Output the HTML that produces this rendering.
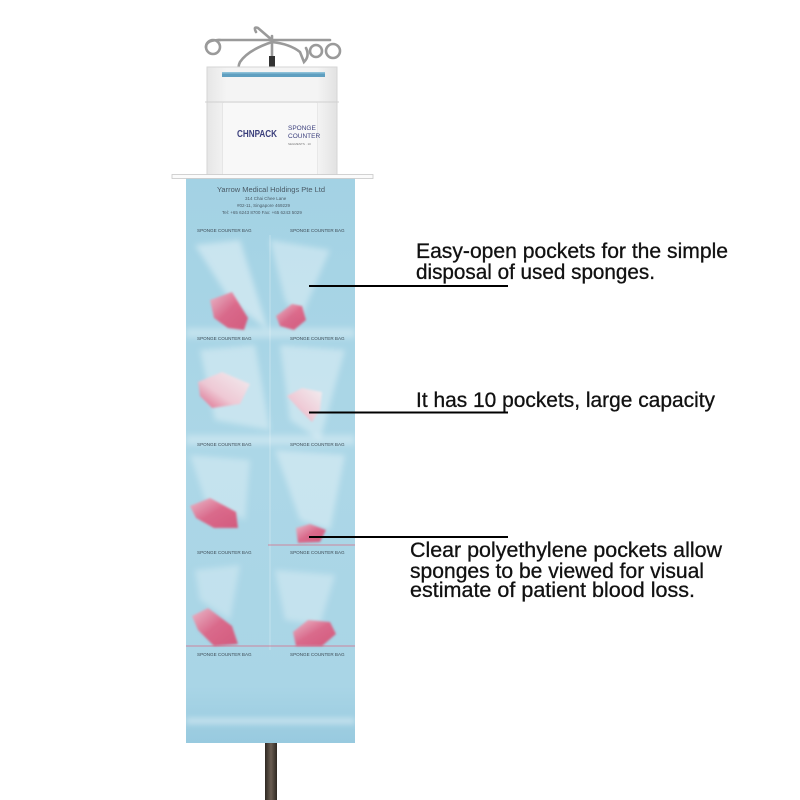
<!DOCTYPE html>
<html><head><meta charset="utf-8"><style>
html,body{margin:0;padding:0;background:#fff;}
svg{display:block;}
</style></head><body>
<svg width="800" height="800" viewBox="0 0 800 800" xmlns="http://www.w3.org/2000/svg">
<defs>
<linearGradient id="pole" x1="0" x2="1" y1="0" y2="0">
<stop offset="0" stop-color="#2e2822"/><stop offset="0.5" stop-color="#6a5d52"/><stop offset="1" stop-color="#2e2822"/>
</linearGradient>
<linearGradient id="bag" x1="0" x2="0" y1="0" y2="1">
<stop offset="0" stop-color="#a3d2e4"/><stop offset="0.5" stop-color="#acd7e7"/><stop offset="0.9" stop-color="#a9d5e6"/><stop offset="1" stop-color="#98cadf"/>
</linearGradient>
<linearGradient id="sp" x1="0" x2="1" y1="0" y2="1">
<stop offset="0" stop-color="#f4b6c6"/><stop offset="0.5" stop-color="#e2567a"/><stop offset="1" stop-color="#d9466c"/>
</linearGradient>
<linearGradient id="sp2" x1="1" x2="0" y1="0" y2="1">
<stop offset="0" stop-color="#f7f0f2"/><stop offset="0.6" stop-color="#f3c6d2"/><stop offset="1" stop-color="#e25a7c"/>
</linearGradient>
<linearGradient id="box" x1="0" x2="1" y1="0" y2="0">
<stop offset="0" stop-color="#e6e6e6"/><stop offset="0.15" stop-color="#f4f4f4"/><stop offset="0.85" stop-color="#f4f4f4"/><stop offset="1" stop-color="#e2e2e2"/>
</linearGradient>
<filter id="soft" x="-10%" y="-10%" width="120%" height="120%"><feGaussianBlur stdDeviation="3"/></filter>
<filter id="soft1" x="-10%" y="-10%" width="120%" height="120%"><feGaussianBlur stdDeviation="1"/></filter>
<clipPath id="bagclip"><rect x="186" y="178" width="169" height="565"/></clipPath>
</defs>
<rect width="800" height="800" fill="#fff"/>

<!-- pole bottom -->
<rect x="265" y="740" width="12" height="60" fill="url(#pole)"/>

<!-- IV hooks -->
<g fill="none" stroke="#9a9a9a" stroke-width="2.6" stroke-linecap="round">
<line x1="272" y1="36" x2="272" y2="70"/>
<path d="M218 40 L330 40"/>
<circle cx="213" cy="47" r="7"/>
<path d="M220 40 Q206 40 206 47"/>
<path d="M272 42 Q248 50 240 62 Q236 70 244 72"/>
<path d="M272 40 L258 28 Q253 26 256 32"/>
<path d="M272 42 Q290 44 300 52 L304 62 Q310 56 306 48"/>
<circle cx="316" cy="51" r="6"/>
<circle cx="333" cy="51" r="7"/>
</g>
<rect x="269" y="56" width="6" height="14" fill="#333"/>

<!-- box -->
<rect x="207" y="67" width="130" height="108" fill="url(#box)" stroke="#d6d6d6" stroke-width="1"/>
<rect x="222" y="72" width="103" height="5" fill="#5f9fc0"/>
<rect x="222" y="72" width="103" height="1.5" fill="#8cc0d8"/>
<line x1="205" y1="102" x2="339" y2="102" stroke="#d0d0d0" stroke-width="1"/>
<line x1="223" y1="102" x2="223" y2="175" stroke="#dcdcdc" stroke-width="1"/>
<line x1="317" y1="102" x2="317" y2="175" stroke="#dcdcdc" stroke-width="1"/>
<rect x="223" y="103" width="94" height="72" fill="#f8f8f8"/>
<text x="237" y="137" font-family="Liberation Sans, sans-serif" font-size="10" font-weight="bold" fill="#3b3f7c" textLength="40" lengthAdjust="spacingAndGlyphs">CHNPACK</text>
<text x="288" y="130" font-family="Liberation Sans, sans-serif" font-size="6.5" fill="#3b3f7c">SPONGE</text>
<text x="288" y="138" font-family="Liberation Sans, sans-serif" font-size="6.5" fill="#3b3f7c">COUNTER</text>
<text x="288" y="145" font-family="Liberation Sans, sans-serif" font-size="3" fill="#777">SEGMENTS · 10</text>

<!-- bag -->
<rect x="186" y="178" width="169" height="565" fill="url(#bag)"/>
<!-- folds / highlights -->
<g fill="#ffffff" filter="url(#soft)" clip-path="url(#bagclip)">
<polygon points="195,245 240,240 268,330 230,300" opacity="0.4"/>
<polygon points="270,240 330,250 300,320 285,300" opacity="0.35"/>
<polygon points="200,350 255,345 270,430 215,420" opacity="0.35"/>
<polygon points="280,345 345,350 320,440 290,420" opacity="0.35"/>
<polygon points="190,455 250,460 245,520 205,500" opacity="0.3"/>
<polygon points="275,450 345,455 330,530 300,520" opacity="0.35"/>
<polygon points="195,570 240,565 230,620 200,600" opacity="0.28"/>
<polygon points="275,570 335,575 320,625 285,620" opacity="0.3"/>
<rect x="186" y="718" width="169" height="6" opacity="0.4"/>
<rect x="186" y="328" width="169" height="10" opacity="0.3"/>
<rect x="186" y="435" width="169" height="10" opacity="0.3"/>
</g>
<line x1="270" y1="235" x2="270" y2="650" stroke="#ffffff" stroke-width="1" opacity="0.3"/>
<line x1="268" y1="545" x2="355" y2="545" stroke="#d86a86" stroke-width="0.8"/>
<line x1="186" y1="646" x2="355" y2="646" stroke="#d86a86" stroke-width="0.8"/>

<!-- bag header text -->
<g font-family="Liberation Sans, sans-serif" fill="#4a5a66">
<text x="217" y="192" font-size="7" textLength="108" lengthAdjust="spacingAndGlyphs">Yarrow Medical Holdings Pte Ltd</text>
<text x="245" y="200" font-size="4.5">314 Chai Chee Lane</text>
<text x="237" y="207" font-size="4.5">#02-11, Singapore 469229</text>
<text x="222" y="214" font-size="4.5">Tel: +65 6243 8700 Fax: +65 6243 5029</text>
</g>
<!-- pocket labels -->
<g font-family="Liberation Sans, sans-serif" font-size="4.6" fill="#3e4c56">
<text x="197" y="232">SPONGE COUNTER BAG</text><text x="290" y="232">SPONGE COUNTER BAG</text>
<text x="197" y="340">SPONGE COUNTER BAG</text><text x="290" y="340">SPONGE COUNTER BAG</text>
<text x="197" y="446">SPONGE COUNTER BAG</text><text x="290" y="446">SPONGE COUNTER BAG</text>
<text x="197" y="554">SPONGE COUNTER BAG</text><text x="290" y="554">SPONGE COUNTER BAG</text>
<text x="197" y="656">SPONGE COUNTER BAG</text><text x="290" y="656">SPONGE COUNTER BAG</text>
</g>

<!-- sponges -->
<g filter="url(#soft1)">
<polygon points="210,300 232,292 248,318 244,330 228,328 214,318" fill="url(#sp)" opacity="0.85"/>
<polygon points="276,316 292,304 302,306 306,320 294,330 280,326" fill="url(#sp)" opacity="0.85"/>
<polygon points="198,382 222,372 250,384 240,404 212,408 200,396" fill="url(#sp2)" opacity="0.9"/>
<polygon points="287,396 302,388 322,392 320,410 312,422 300,410" fill="url(#sp2)" opacity="0.9"/>
<polygon points="190,506 210,498 236,512 238,528 214,528 196,518" fill="url(#sp)" opacity="0.85"/>
<polygon points="296,528 310,524 326,530 320,542 298,543" fill="url(#sp)" opacity="0.85"/>
<polygon points="192,616 208,608 232,626 238,644 214,646 198,630" fill="url(#sp)" opacity="0.85"/>
<polygon points="293,632 308,620 330,622 336,634 322,646 296,646" fill="url(#sp)" opacity="0.85"/>
</g>

<!-- tray -->
<rect x="172" y="174.5" width="201" height="4" fill="#fbfbfb" stroke="#c8c8c8" stroke-width="0.8"/>

<!-- callout lines -->
<g stroke="#000" stroke-width="2">
<line x1="309" y1="286" x2="508" y2="286"/>
<line x1="309" y1="412.5" x2="508" y2="412.5"/>
<line x1="309" y1="537" x2="508" y2="537"/>
</g>

<!-- callout text -->
<g font-family="Liberation Sans, sans-serif" font-size="21" fill="#111" stroke="#111" stroke-width="0.3">
<text x="416" y="258" textLength="312" lengthAdjust="spacingAndGlyphs">Easy-open pockets for the simple</text>
<text x="416" y="279" textLength="239" lengthAdjust="spacingAndGlyphs">disposal of used sponges.</text>
<text x="416" y="407" textLength="299" lengthAdjust="spacingAndGlyphs">It has 10 pockets, large capacity</text>
<text x="410" y="557" textLength="312" lengthAdjust="spacingAndGlyphs">Clear polyethylene pockets allow</text>
<text x="410" y="578" textLength="294" lengthAdjust="spacingAndGlyphs">sponges to be viewed for visual</text>
<text x="410" y="597" textLength="285" lengthAdjust="spacingAndGlyphs">estimate of patient blood loss.</text>
</g>
</svg>
</body></html>
